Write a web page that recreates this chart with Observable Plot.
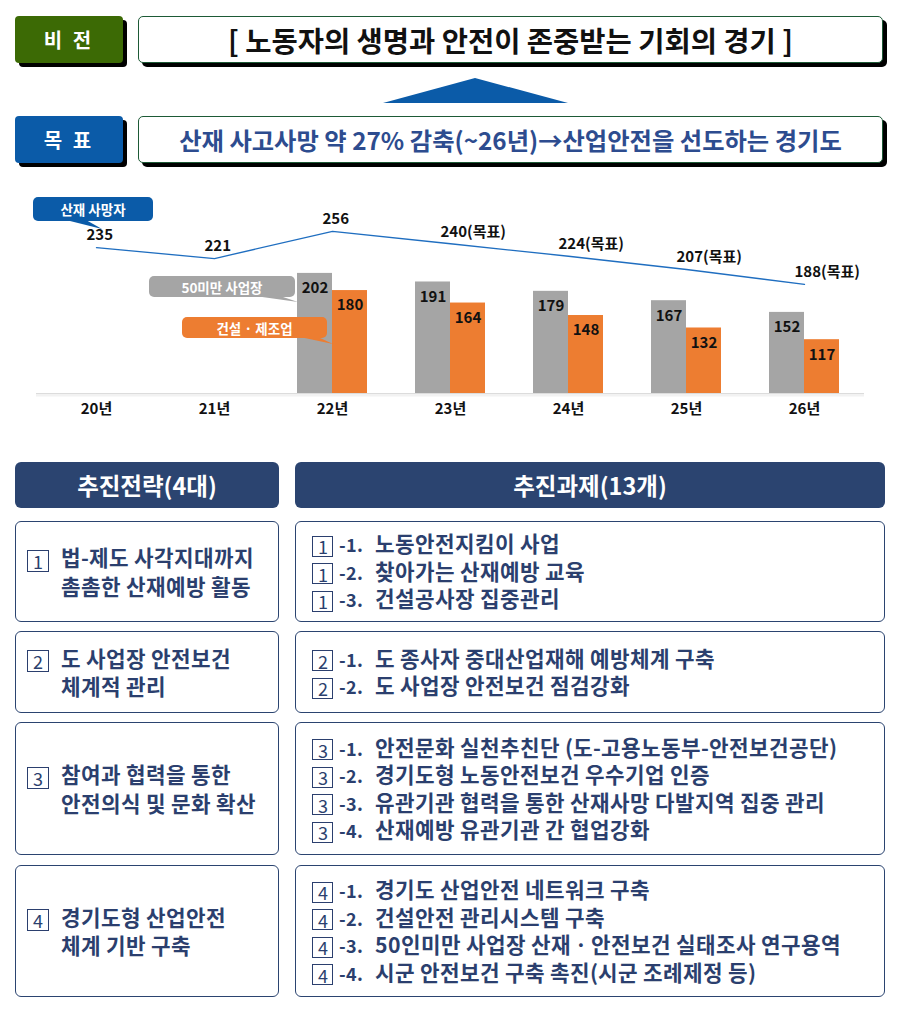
<!DOCTYPE html>
<html><head><meta charset="utf-8">
<script src="https://cdn.jsdelivr.net/npm/d3@7"></script>
<script src="https://cdn.jsdelivr.net/npm/@observablehq/plot@0.6"></script>
<style>
@font-face{font-family:"KRT";src:local("Noto Sans CJK KR Bold"),local("NotoSansCJKkr-Bold");font-weight:700;ascent-override:98%;descent-override:10%;line-gap-override:0%;}
@font-face{font-family:"KRT";src:local("Noto Sans CJK KR"),local("Noto Sans CJK KR Regular"),local("NotoSansCJKkr-Regular");font-weight:400;ascent-override:98%;descent-override:10%;line-gap-override:0%;}
body{margin:0;background:#fff;font-family:"Noto Sans CJK KR","Noto Sans",sans-serif;}
#wrap{position:relative;width:900px;height:1023px;overflow:hidden;}
.abs{position:absolute;box-sizing:border-box;}
.tag{color:#fff;font-weight:700;font-size:20px;display:flex;align-items:center;justify-content:center;border-radius:4px;box-shadow:4px 4px 0 #000;letter-spacing:3px;}
.banner{background:#fff;border:1.5px solid #1d5a36;border-radius:5px;box-shadow:4px 4px 0 #000;display:flex;align-items:center;justify-content:center;font-weight:700;white-space:nowrap;}
.head{background:#2b4470;color:#fff;border-radius:6px;font-weight:700;font-size:23.5px;display:flex;align-items:center;justify-content:center;}
.row{border:1.5px solid #2b4470;border-radius:6px;display:flex;flex-direction:column;justify-content:center;color:#2b3f6e;font-weight:700;white-space:nowrap;font-family:"KRT","Noto Sans CJK KR",sans-serif;}
.lrow{font-size:21.25px;line-height:28px;padding-left:10.5px;}
.rrow{font-size:21.25px;line-height:26.5px;padding-left:16px;}
.nb{display:inline-flex;align-items:center;justify-content:center;box-sizing:border-box;border:1px solid #2b3f6e;font-weight:400;font-size:18px;vertical-align:middle;line-height:1;}
.lrow .nb{width:22px;height:22px;margin-right:12px;}
.rrow .nb{width:21px;height:21px;margin-right:6px;}
.sub{display:inline-block;width:36px;font-weight:700;font-size:18px;}
#chart{position:absolute;left:0;top:190px;}
#over{position:absolute;left:0;top:0;pointer-events:none;}
</style></head>
<body><div id="wrap"></div>
<script>
// ---- data ----
const years = ["20년","21년","22년","23년","24년","25년","26년"];
const deaths = [235,221,256,240,224,207,188];
const isTarget = [false,false,false,true,true,true,true];
const barYears = ["22년","23년","24년","25년","26년"];
const under50 = [202,191,179,167,152];
const constMfg = [180,164,148,132,117];
const seriesNames = ["산재 사망자","50미만 사업장","건설 · 제조업"];

const visionLabel = "비 전";
const visionText = "[ 노동자의 생명과 안전이 존중받는 기회의 경기 ]";
const goalLabel = "목 표";
const goalText = "산재 사고사망 약 27% 감축(~26년)→산업안전을 선도하는 경기도";
const headLeft = "추진전략(4대)";
const headRight = "추진과제(13개)";
const strategies = [
  ["법-제도 사각지대까지","촘촘한 산재예방 활동"],
  ["도 사업장 안전보건","체계적 관리"],
  ["참여과 협력을 통한","안전의식 및 문화 확산"],
  ["경기도형 산업안전","체계 기반 구축"]
];
const tasks = [
  ["노동안전지킴이 사업","찾아가는 산재예방 교육","건설공사장 집중관리"],
  ["도 종사자 중대산업재해 예방체계 구축","도 사업장 안전보건 점검강화"],
  ["안전문화 실천추친단 (도-고용노동부-안전보건공단)","경기도형 노동안전보건 우수기업 인증","유관기관 협력을 통한 산재사망 다발지역 집중 관리","산재예방 유관기관 간 협업강화"],
  ["경기도 산업안전 네트워크 구축","건설안전 관리시스템 구축","50인미만 사업장 산재ㆍ안전보건 실태조사 연구용역","시군 안전보건 구축 촉진(시군 조례제정 등)"]
];

// ---- layout ----
const wrap = document.getElementById("wrap");
function add(cls, style, html){
  const d = document.createElement("div");
  d.className = "abs " + cls;
  Object.assign(d.style, style);
  if (html !== undefined) d.innerHTML = html;
  wrap.appendChild(d);
  return d;
}
add("tag", {left:"15px",top:"16px",width:"108px",height:"47px",background:"#3c6a05"}, visionLabel);
add("banner", {left:"138px",top:"16px",width:"745px",height:"47px",fontSize:"28.5px",color:"#111"}, visionText);
add("tag", {left:"15px",top:"116px",width:"108px",height:"47px",background:"#0b5ba8"}, goalLabel);
add("banner", {left:"138px",top:"116px",width:"745px",height:"47px",fontSize:"24.3px",color:"#2d4c8f"}, goalText);
add("head", {left:"15px",top:"462px",width:"264px",height:"46px"}, headLeft);
add("head", {left:"295px",top:"462px",width:"590px",height:"46px"}, headRight);

const rowTops = [521,631,722,865];
const rowHeights = [101,82,133,132];
strategies.forEach((lines,i)=>{
  const html = `<div><span class="nb">${i+1}</span>${lines[0]}</div>` +
    lines.slice(1).map(l=>`<div style="padding-left:34px">${l}</div>`).join("");
  add("row lrow", {left:"15px",top:rowTops[i]+"px",width:"264px",height:rowHeights[i]+"px"}, html);
});
tasks.forEach((items,i)=>{
  const html = items.map((t,j)=>`<div><span class="nb">${i+1}</span><span class="sub">-${j+1}.</span>${t}</div>`).join("");
  add("row rrow", {left:"295px",top:rowTops[i]+"px",width:"590px",height:rowHeights[i]+"px"}, html);
});

// ---- chart ----
const lineData = years.map((y,i)=>({year:y, v:deaths[i], label: deaths[i] + (isTarget[i] ? "(목표)" : "")}));
const barData = barYears.map((y,i)=>({year:y, a:under50[i], b:constMfg[i]}));
const Y0 = 48;
const font = '"Noto Sans CJK KR","Noto Sans",sans-serif';
const chart = Plot.plot({
  width:900, height:240, marginLeft:36, marginRight:36, marginTop:0, marginBottom:37,
  style:{fontFamily:font, overflow:"visible", background:"transparent", color:"#111"},
  x:{type:"band", domain:years, paddingInner:0.408, paddingOuter:0.204, label:null},
  y:{domain:[Y0, 308.3], axis:null},
  marks:[
    Plot.ruleY([Y0], {stroke:"#f2f2f2", strokeWidth:3, dy:1.5}),
    Plot.ruleY([Y0], {stroke:"#dcdcdc", strokeWidth:1}),
    Plot.barY(barData, {x:"year", y1:()=>Y0, y2:"a", fill:"#a5a5a5", insetRight:35}),
    Plot.barY(barData, {x:"year", y1:()=>Y0, y2:"b", fill:"#ed7d31", insetLeft:35}),
    Plot.text(barData, {x:"year", y:"a", text:"a", dx:-17.5, dy:15, fontSize:15, fontWeight:"bold", fill:"#111"}),
    Plot.text(barData, {x:"year", y:"b", text:"b", dx:17.5, dy:15, fontSize:15, fontWeight:"bold", fill:"#111"}),
    Plot.line(lineData, {x:"year", y:"v", stroke:"#1f6ec0", strokeWidth:1.3}),
    Plot.text(lineData, {x:"year", y:"v", text:"label", textAnchor:"start", dx:-10, dy:-12, fontSize:15, fontWeight:"bold", fill:"#111"}),
    Plot.axisX({tickSize:0, tickPadding:10, fontSize:15, fontWeight:"bold", fill:"#111", label:null})
  ]
});
chart.id = "chart";
wrap.appendChild(chart);

// ---- callouts (legend labels) and arrow triangle ----
const ns = "http://www.w3.org/2000/svg";
const over = document.createElementNS(ns, "svg");
over.setAttribute("id","over"); over.setAttribute("width",900); over.setAttribute("height",1023);
const tri = document.createElementNS(ns,"polygon");
tri.setAttribute("points","383,103 568,103 475,78");
tri.setAttribute("fill","#0b5ba8");
over.appendChild(tri);
const colors = ["#0b5ba8","#a5a5a5","#ed7d31"];
const boxes = [[33,197,120,24],[149,276,146,21],[182,317,145,21]];
const tails = [[[66,220],[86,220],[102,229]],[[255,296],[280,296],[298,302]],[[300,337],[318,337],[333,344]]];
seriesNames.forEach((n,i)=>{
  const [x,y,w,h] = boxes[i];
  const p = document.createElementNS(ns,"polygon");
  p.setAttribute("points", tails[i].map(d=>d.join(",")).join(" "));
  p.setAttribute("fill", colors[i]); over.appendChild(p);
  const r = document.createElementNS(ns,"rect");
  Object.entries({x,y,width:w,height:h,rx:5,fill:colors[i]}).forEach(([k,v])=>r.setAttribute(k,v));
  over.appendChild(r);
  const t = document.createElementNS(ns,"text");
  Object.entries({x:x+w/2,y:y+h/2,"text-anchor":"middle","dominant-baseline":"central",fill:"#fff","font-size":13.5,"font-weight":"bold","font-family":font}).forEach(([k,v])=>t.setAttribute(k,v));
  t.textContent = n; over.appendChild(t);
});
wrap.appendChild(over);
</script></body></html>
